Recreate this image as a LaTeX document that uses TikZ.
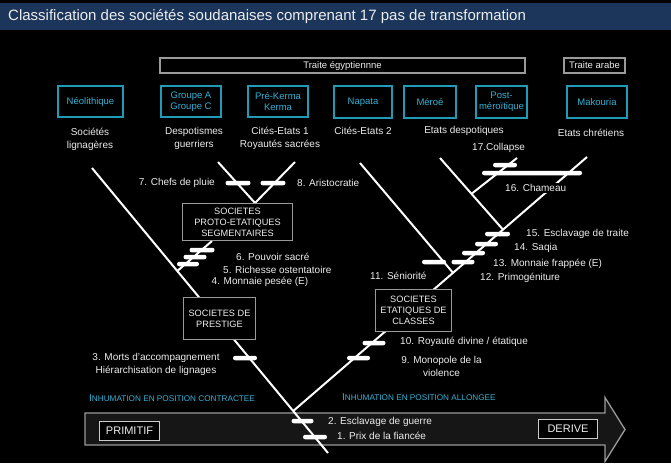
\documentclass[tikz,border=0pt]{standalone}
\usepackage{fontspec}
\setmainfont{Liberation Sans}
\usetikzlibrary{calc}
\definecolor{titlebar}{HTML}{1B365A}
\definecolor{cyanb}{HTML}{1F9BB8}
\definecolor{cyant}{HTML}{35B2D6}
\definecolor{grayb}{HTML}{9A9A9A}
\definecolor{poleb}{HTML}{CCCCCC}
\definecolor{arrowfill}{HTML}{161616}
\definecolor{txt}{HTML}{EDEDED}
\begin{document}
\begin{tikzpicture}[x=1pt,y=-1pt,
  every node/.style={text=txt, font=\fontsize{10}{13}\selectfont, inner sep=0pt},
  branch/.style={draw=white, line width=2pt},
  markbar/.style={fill=white, rounded corners=2.2pt, minimum height=4.5pt, inner sep=0pt, minimum width=#1},
  period/.style={draw=cyanb, line width=1.8pt, fill=black, text=cyant, align=center,
     font=\fontsize{9.5}{10.8}\selectfont, minimum height=31.5pt, minimum width=#1},
  traite/.style={draw=grayb, line width=1.2pt, fill=black, font=\fontsize{9.5}{11}\selectfont,
     minimum height=15pt, minimum width=#1},
  society/.style={draw=grayb, line width=1.3pt, fill=black, align=center,
     font=\fontsize{9.2}{11}\selectfont, minimum height=#1},
  pole/.style={draw=poleb, line width=1.3pt, fill=black, font=\fontsize{11}{13}\selectfont,
     minimum height=19pt, minimum width=#1},
  lab/.style={align=center},
  inhum/.style={text=cyant, anchor=west},
]
\useasboundingbox (0,0) rectangle (671,463);
\fill[black] (0,0) rectangle (671,463);
% title bar
\fill[titlebar] (0,3) rectangle (671,29.5);
\node[anchor=west, font=\fontsize{15}{17}\selectfont] (title) at (8,16.5)
  {Classification des sociétés soudanaises comprenant 17 pas de transformation};

% big arrow
\filldraw[fill=arrowfill, draw=grayb, line width=1.3pt]
  (85,413) -- (605,413) -- (605,397.5) -- (625,429.5) -- (605,461.5) -- (605,445) -- (85,445) -- cycle;

% coordinates of the tree
\coordinate (L0) at (92,168);
\coordinate (Lend) at (328,453);
\coordinate (J1) at ($(L0)!0.85263!(Lend)$);
\coordinate (P2) at ($(L0)!0.3614!(Lend)$);
\coordinate (P1) at (212,241);
\coordinate (R1) at (587,157);
\coordinate (J2) at ($(J1)!0.7141!(R1)$);
\coordinate (J4) at ($(J1)!0.5439!(R1)$);
\coordinate (N0) at (440,158);
\coordinate (J3) at ($(N0)!0.5!(J2)$);
\coordinate (C0) at (517,158);
\coordinate (S0) at (360,163);
\coordinate (VL) at (218,162);
\coordinate (VR) at (295,162);
\coordinate (VJ) at (255,203);

% branches
\draw[branch] (L0) -- (Lend);
\draw[branch] (J1) -- (R1);
\draw[branch] (N0) -- (J2);
\draw[branch] (J3) -- (C0);
\draw[branch] (S0) -- (J4);
\draw[branch] (VL) -- (VJ) -- (VR);
\draw[branch] (P1) -- (P2);

% period boxes
\node[traite=365pt] (egy) at (342.5,65.5) {Traite égyptiennne};
\node[traite=61pt] (arabe) at (594.5,65.5) {Traite arabe};
\node[period=65pt] (neo) at (90.5,101.5) {Néolithique};
\node[period=60pt] (grp) at (191,101.5) {Groupe A\\Groupe C};
\node[period=60pt] (kerma) at (278,101.5) {Pré-Kerma\\Kerma};
\node[period=58pt] (napata) at (363,102) {Napata};
\node[period=52pt] (meroe) at (430,102) {Méroé};
\node[period=51pt] (post) at (501.5,102) {Post-\\méroïtique};
\node[period=60pt] (mak) at (597,102) {Makouria};

% captions under periods
\node[lab] (c1) at (90,139) {Sociétés\\lignagères};
\node[lab] (c2) at (194,138) {Despotismes\\guerriers};
\node[lab] (c3) at (280,138) {Cités-Etats 1\\Royautés sacrées};
\node[lab] (c4) at (363,131) {Cités-Etats 2};
\node[lab] (c5) at (464,131) {Etats despotiques};
\node[lab] (c6) at (591,133) {Etats chrétiens};

% society boxes
\node[society=37pt, minimum width=110pt] (proto) at (237.5,222) {SOCIETES\\PROTO-ETATIQUES\\SEGMENTAIRES};
\node[society=42pt, minimum width=72pt] (prest) at (219.5,318.5) {SOCIETES DE\\PRESTIGE};
\node[society=42pt, minimum width=76pt] (etat) at (413.5,310.5) {SOCIETES\\ETATIQUES DE\\CLASSES};

% pole boxes on arrow
\node[pole=60pt] (prim) at (129.5,431) {PRIMITIF};
\node[pole=59pt] (der) at (568,429) {DERIVE};

% marker bars
\node[markbar=25pt] (b7) at (238,183) {};
\node[markbar=25pt] (b8) at (273,183) {};
\node[markbar=25pt] (b6) at (202,250) {};
\node[markbar=23pt] (b5) at (195,257) {};
\node[markbar=22pt] (b4) at (188,264) {};
\node[markbar=24pt] (b3) at (245,358) {};
\node[markbar=22pt] (b2) at (302.5,421) {};
\node[markbar=24pt] (b1) at (315,437) {};
\node[markbar=23pt] (b10) at (374,343) {};
\node[markbar=23pt] (b9) at (358.5,358) {};
\node[markbar=24pt] (b11) at (434,262) {};
\node[markbar=23pt] (b12) at (463,262) {};
\node[markbar=23pt] (b13) at (473.5,253) {};
\node[markbar=23pt] (b14) at (486.5,244) {};
\node[markbar=25pt] (b15) at (497.5,234) {};
\node[markbar=100pt] (b16) at (532,173) {};
\node[markbar=24pt] (b17) at (505,165) {};

% step labels
\node[anchor=east] (t7) at (215,183) {7. Chefs de pluie};
\node[anchor=west] (t8) at (297,183) {8. Aristocratie};
\node[anchor=west] (t6) at (236,257) {6. Pouvoir sacré};
\node[anchor=west] (t5) at (223,269.5) {5. Richesse ostentatoire};
\node[anchor=west] (t4) at (211.5,282) {4. Monnaie pesée (E)};
\node[lab] (t3) at (156,364.5) {3. Morts d'accompagnement\\Hiérarchisation de lignages};
\node[anchor=west] (t10) at (400,342) {10. Royauté divine / étatique};
\node[lab] (t9) at (441.5,366) {9. Monopole de la\\violence};
\node[anchor=west] (t2) at (328,421.5) {2. Esclavage de guerre};
\node[anchor=west] (t1) at (337,435.5) {1. Prix de la fiancée};
\node[anchor=west] (t11) at (370,276) {11. Séniorité};
\node[anchor=west] (t12) at (480,278) {12. Primogéniture};
\node[anchor=west] (t13) at (493,263.5) {13. Monnaie frappée (E)};
\node[anchor=west] (t14) at (514,248) {14. Saqia};
\node[anchor=west] (t15) at (526,234) {15. Esclavage de traite};
\node[anchor=west, fill=black, inner sep=1.5pt] (t16) at (503.5,188) {16. Chameau};
\node[anchor=west] (t17) at (472,148) {17.Collapse};

% burial labels
\node[inhum] (ic) at (89,398) {{\fontsize{10}{12}\selectfont I}{\fontsize{8.2}{12}\selectfont NHUMATION EN POSITION CONTRACTEE}};
\node[inhum] (ia) at (342,397) {{\fontsize{10}{12}\selectfont I}{\fontsize{8.2}{12}\selectfont NHUMATION EN POSITION ALLONGEE}};
\end{tikzpicture}
\end{document}
